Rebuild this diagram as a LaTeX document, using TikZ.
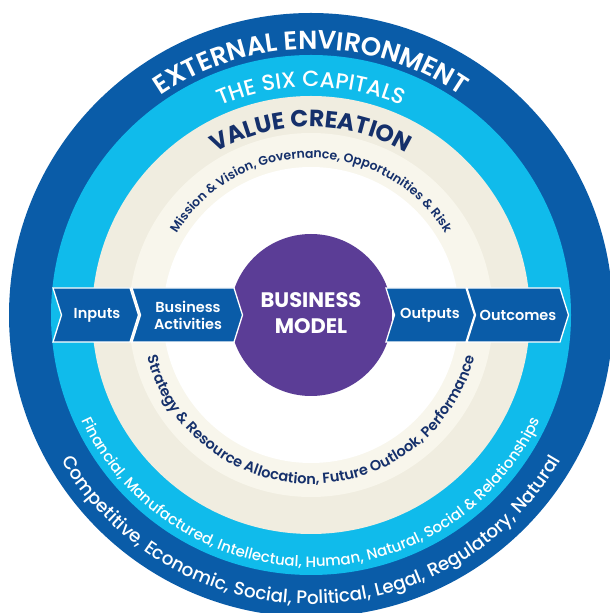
\documentclass[tikz,border=0pt]{standalone}
\usepackage{fontspec}
\setmainfont{Poppins}
\newfontfamily\semib{Poppins SemiBold}
\newfontfamily\medf{Poppins Medium}
\usetikzlibrary{decorations.text,calc}
\definecolor{dblue}{HTML}{0A5CA8}
\definecolor{lblue}{HTML}{10BBEB}
\definecolor{cream}{HTML}{F0EDE0}
\definecolor{lcream}{HTML}{F8F6EC}
\definecolor{purp}{HTML}{5B3D96}
\definecolor{navy}{HTML}{15306B}
\tikzset{
  chev/.style={fill=dblue, draw=white, line width=1.3pt, line join=miter},
  chevtext/.style={text=white, align=center, font=\semib\fontsize{14.5}{17}\selectfont, inner sep=0pt},
  arctext/.style={decorate, decoration={text along path, text align=center, #1}},
}
\begin{document}
\begin{tikzpicture}[x=1pt,y=1pt]
\useasboundingbox (0,0) rectangle (610,613);
\clip (0,0) rectangle (610,613);
\coordinate (C) at (311,298);
% rings
\fill[dblue] (C) circle (302);
\fill[lblue] (C) circle (260);
\fill[cream] (C) circle (219);
\fill[lcream] (C) circle (182);
\fill[white] (C) circle (148);
% business model
\node[circle, fill=purp, minimum size=162pt, inner sep=0pt] (bm) at (311,298) {};
% chevrons
\draw[chev] (53,325) -- (130,325) -- (138.5,298) -- (130,271) -- (53,271) -- (61.5,298) -- cycle;
\draw[chev] (132,325) -- (234,325) -- (242.5,298) -- (234,271) -- (132,271) -- (140.5,298) -- cycle;
\draw[chev] (386,325) -- (466,325) -- (474.5,298) -- (466,271) -- (386,271) -- (394.5,298) -- cycle;
\draw[chev] (467,325) -- (560,325) -- (568.5,298) -- (560,271) -- (467,271) -- (475.5,298) -- cycle;
\node[chevtext] (inp) at (97,298) {Inputs};
\node[chevtext] (ba) at (188,298) {Business\\Activities};
\node[chevtext] (outp) at (430,298) {Outputs};
\node[chevtext] (outc) at (518,298) {Outcomes};
\node[text=white, align=center, font=\bfseries\fontsize{21}{26}\selectfont, inner sep=0pt] (bmt) at (311,300) {BUSINESS\\MODEL};
% curved texts (top, letters outward)
\path[arctext={text color=white, text={|\semib\fontsize{26}{26}\selectfont|EXTERNAL ENVIRONMENT}}]
  ($(C)+(175:266)$) arc[start angle=175, end angle=5, radius=266];
\path[arctext={text color=white, text={|\medf\fontsize{22}{22}\selectfont|THE SIX CAPITALS}}]
  ($(C)+(175:228)$) arc[start angle=175, end angle=5, radius=228];
\path[arctext={text color=navy, text={|\bfseries\fontsize{23.5}{23.5}\selectfont|VALUE CREATION}}]
  ($(C)+(175:188)$) arc[start angle=175, end angle=5, radius=188];
\path[arctext={text color=navy, text={|\semib\fontsize{12.5}{12.5}\selectfont|Mission {\&} Vision, Governance, Opportunities {\&} Risk}}]
  ($(C)+(178:157)$) arc[start angle=178, end angle=2, radius=157];
% curved texts (bottom, letters inward)
\path[arctext={text color=navy, text={|\semib\fontsize{14.5}{14.5}\selectfont|Strategy {\&} Resource Allocation, Future Outlook, Performance}}]
  ($(C)+(182:169)$) arc[start angle=182, end angle=358, radius=169];
\path[arctext={text color=white, text={|\medf\fontsize{15}{15}\selectfont|Financial, Manufactured, Intellectual, Human, Natural, Social {\&} Relationships}}]
  ($(C)+(185:252)$) arc[start angle=185, end angle=355, radius=252];
\path[arctext={text color=white, text={|\medf\fontsize{18.3}{18.3}\selectfont|Competitive, Economic, Social, Political, Legal, Regulatory, Natural}}]
  ($(C)+(185:289)$) arc[start angle=185, end angle=355, radius=289];
\end{tikzpicture}
\end{document}
